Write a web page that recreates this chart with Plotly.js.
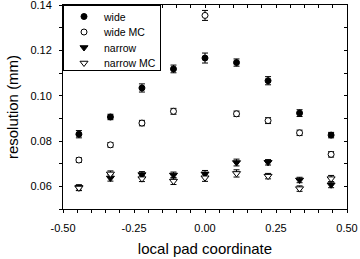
<!DOCTYPE html>
<html>
<head>
<meta charset="utf-8">
<script src="https://cdn.plot.ly/plotly-3.0.1.min.js"></script>
<style>html,body{margin:0;padding:0;background:#fff;}#chart{width:360px;height:259px;}</style>
</head>
<body>
<div id="chart"></div>
<script>
var padX = [-0.444, -0.333, -0.222, -0.111, 0.0, 0.111, 0.222, 0.333, 0.444];
var wide = [0.0830, 0.0906, 0.1034, 0.1118, 0.1166, 0.1146, 0.1066, 0.0923, 0.0826];
var wideErr = [0.0016, 0.0012, 0.0018, 0.0017, 0.0022, 0.0016, 0.0018, 0.0015, 0.0012];
var wideMC = [0.0716, 0.0783, 0.0879, 0.0931, 0.1354, 0.0920, 0.0890, 0.0836, 0.0741];
var wideMCErr = [0.0010, 0.0010, 0.0012, 0.0013, 0.0022, 0.0012, 0.0013, 0.0012, 0.0012];
var narrow = [0.0595, 0.0637, 0.0652, 0.0650, 0.0655, 0.0705, 0.0706, 0.0628, 0.0607];
var narrowErr = [0.0012, 0.0014, 0.0013, 0.0013, 0.0015, 0.0015, 0.0012, 0.0012, 0.0013];
var narrowMC = [0.0593, 0.0655, 0.0634, 0.0623, 0.0638, 0.0657, 0.0645, 0.0590, 0.0634];
var narrowMCErr = [0.0012, 0.0013, 0.0013, 0.0015, 0.0016, 0.0016, 0.0012, 0.0012, 0.0014];
var seriesNames = ["wide", "wide MC", "narrow", "narrow MC"];
var xTickVals = [-0.5, -0.25, 0, 0.25, 0.5];
var xTickText = ["-0.50", "-0.25", "0.00", "0.25", "0.50"];
var yTickVals = [0.06, 0.08, 0.10, 0.12, 0.14];
var yTickText = ["0.06", "0.08", "0.10", "0.12", "0.14"];

function mk(y, err, name, symbol, filled, size) {
  return {
    x: padX, y: y, name: name, type: 'scatter', mode: 'markers',
    error_y: {type: 'data', array: err, visible: true, color: 'black', thickness: 1, width: 3},
    marker: {symbol: symbol, size: size, color: filled ? 'black' : 'white',
             line: {color: 'black', width: 1}}
  };
}
var data = [
  mk(wide, wideErr, seriesNames[0], 'circle', true, 6),
  mk(wideMC, wideMCErr, seriesNames[1], 'circle', false, 6),
  mk(narrow, narrowErr, seriesNames[2], 'triangle-down', true, 7),
  mk(narrowMC, narrowMCErr, seriesNames[3], 'triangle-down', false, 7),
  {x: [], y: [], xaxis: 'x2', yaxis: 'y2', type: 'scatter', mode: 'markers', showlegend: false, hoverinfo: 'skip'}
];
var fontFam = 'Liberation Sans, Arial, Helvetica, sans-serif';
var layout = {
  width: 360, height: 259,
  margin: {l: 63, r: 13, t: 5, b: 50},
  paper_bgcolor: 'white', plot_bgcolor: 'white',
  font: {family: fontFam, size: 11, color: 'black'},
  showlegend: true,
  legend: {x: 0, y: 1, xanchor: 'left', yanchor: 'top', bgcolor: 'white',
           bordercolor: 'black', borderwidth: 1, font: {size: 10.5, family: fontFam},
           tracegroupgap: 0},
  xaxis: {range: [-0.5, 0.5], tickmode: 'array', tickvals: xTickVals, ticktext: xTickText,
          ticks: 'outside', ticklen: 3, tickcolor: 'black', showline: true, linecolor: 'black',
          linewidth: 1, zeroline: false, showgrid: false, ticklabelstandoff: 6, ticklabeloverflow: 'allow',
          minor: {tickmode: 'linear', tick0: 0, dtick: 0.05, ticks: 'outside', ticklen: 3, tickcolor: 'black', showgrid: false},
          title: {text: 'local pad coordinate', font: {size: 15}, standoff: 10}},
  xaxis2: {range: [-0.5, 0.5], overlaying: 'x', side: 'top', tickmode: 'linear', tick0: 0, dtick: 0.05,
           ticks: 'inside', ticklen: 3, tickcolor: 'black', showticklabels: false, showline: true,
           linecolor: 'black', linewidth: 1, zeroline: false, showgrid: false},
  yaxis: {range: [0.05, 0.1400001], tickmode: 'array', tickvals: yTickVals, ticktext: yTickText,
          ticks: 'outside', ticklen: 3, tickcolor: 'black', showline: true, linecolor: 'black',
          linewidth: 1, zeroline: false, showgrid: false, ticklabelstandoff: 5, ticklabeloverflow: 'allow',
          minor: {tickmode: 'linear', tick0: 0, dtick: 0.01, ticks: 'outside', ticklen: 3, tickcolor: 'black', showgrid: false},
          title: {text: 'resolution (mm)', font: {size: 15}, standoff: 8}},
  yaxis2: {range: [0.05, 0.1400001], overlaying: 'y', side: 'right', tickmode: 'linear', tick0: 0, dtick: 0.01,
           ticks: 'inside', ticklen: 3, tickcolor: 'black', showticklabels: false, showline: true,
           linecolor: 'black', linewidth: 1, zeroline: false, showgrid: false}
};
Plotly.newPlot('chart', data, layout, {staticPlot: true, displayModeBar: false}).then(function (gd) {
  // tighten legend row spacing to match reference
  var items = gd.querySelectorAll('.legend .traces');
  var y0 = null;
  for (var i = 0; i < items.length; i++) {
    var tr = items[i].getAttribute('transform') || '';
    var m = /translate\(\s*([-\d.e]+)[\s,]+([-\d.e]+)\s*\)/.exec(tr);
    if (!m) continue;
    var x = parseFloat(m[1]), y = parseFloat(m[2]);
    if (y0 === null) y0 = y;
    items[i].setAttribute('transform', 'translate(' + x + ',' + (y0 - 4 + i * 15.5) + ')');
  }
  var bg = gd.querySelector('.legend rect.bg');
  if (bg) { bg.setAttribute('height', 65); bg.setAttribute('width', 97); }
});
</script>
</body>
</html>
